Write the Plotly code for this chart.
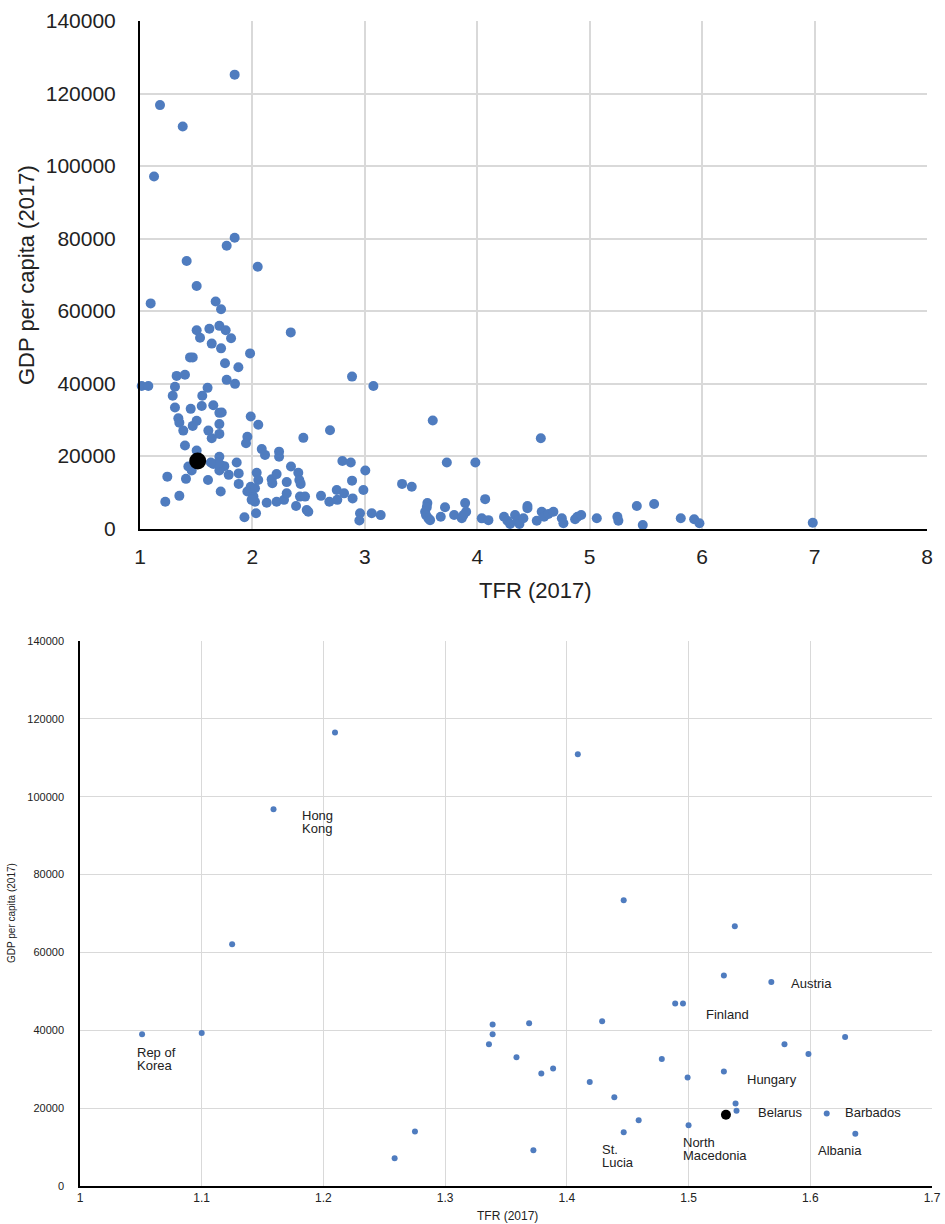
import plotly.graph_objects as go

# ---------------- data: top panel (all countries) ----------------
top_tfr = [1.842, 1.178, 1.380, 1.125, 1.842, 1.771, 1.415, 2.047, 1.504, 1.095,
           1.673, 1.721, 1.504, 1.534, 1.617, 1.706, 1.762, 1.810, 1.638, 1.721,
           1.979, 1.445, 1.469, 1.756, 1.875, 1.326, 1.400, 1.771, 1.845, 1.015,
           1.074, 1.311, 1.601, 1.291, 1.554, 2.341, 2.886, 3.076, 3.604, 2.690,
           2.453, 3.729, 3.983, 3.004, 3.331, 3.417, 4.070, 4.565, 1.311, 1.451,
           1.549, 1.652, 1.706, 1.727, 1.341, 1.350, 1.504, 1.469, 1.985, 2.052,
           1.385, 1.608, 1.706, 1.706, 1.638, 1.955, 1.943, 1.400, 2.083, 2.112,
           2.237, 2.237, 1.504, 1.706, 1.430, 1.460, 1.652, 1.718, 1.750, 1.706,
           1.860, 1.789, 1.878, 1.243, 1.409, 1.605, 1.878, 2.038, 2.052, 1.985,
           1.955, 2.009, 2.023, 1.718, 1.350, 1.225, 1.929, 2.032, 2.171, 2.215,
           2.305, 2.343, 2.408, 2.417, 2.429, 2.127, 2.215, 2.281, 2.305, 2.388,
           2.423, 2.468, 2.483, 2.610, 2.684, 2.755, 2.750, 2.800, 2.875, 2.815,
           2.891, 2.886, 2.987, 2.957, 2.951, 3.061, 3.141, 1.697, 1.630, 2.023,
           1.993, 2.177, 2.497, 3.556, 3.551, 3.536, 3.544, 3.565, 3.580, 3.713,
           3.675, 3.794, 3.862, 3.892, 3.901, 3.877, 4.040, 4.099, 4.238, 4.268,
           4.292, 4.336, 4.357, 4.375, 4.410, 4.446, 4.446, 4.529, 4.573, 4.594,
           4.633, 4.677, 4.752, 4.766, 4.870, 4.891, 4.924, 5.063, 5.246, 5.255,
           5.419, 5.573, 5.472, 5.810, 5.929, 5.976, 6.984]
top_gdp = [125200, 116800, 110900, 97100, 80200, 78000, 73800, 72200, 66900, 62100,
           62600, 60500, 54700, 52600, 55100, 55900, 54700, 52500, 51000, 49700,
           48300, 47200, 47200, 45600, 44500, 42100, 42400, 41000, 39900, 39300,
           39300, 39100, 38800, 36600, 36600, 54100, 41900, 39300, 29800, 27100,
           25000, 18200, 18200, 16000, 12300, 11500, 8100, 24900, 33400, 33000,
           33800, 34000, 31900, 32000, 30400, 29200, 29700, 28300, 30900, 28600,
           27000, 27000, 28800, 26100, 24900, 25300, 23500, 22900, 21900, 20300,
           21200, 19800, 21500, 19800, 17100, 16000, 17800, 17500, 17200, 16000,
           18200, 14800, 15200, 14300, 13700, 13400, 12300, 15400, 13400, 11500,
           10200, 8800, 7400, 10200, 9000, 7400, 3100, 4200, 13600, 15000,
           12800, 17100, 15400, 13400, 12300, 7100, 7400, 7900, 9700, 6200,
           8800, 8800, 5100, 9000, 7400, 7900, 10600, 18600, 18200, 9700,
           8300, 13200, 10600, 4200, 2200, 4200, 3700, 18000, 18200, 11100,
           7900, 12500, 4600, 7000, 5900, 4600, 3700, 2800, 2300, 5850,
           3260, 3720, 2810, 7000, 4600, 3700, 2800, 2300, 3260, 2150,
           1240, 3720, 2150, 1240, 2810, 6210, 5570, 2150, 4640, 3260,
           4000, 4640, 2810, 1430, 2540, 3260, 3720, 2810, 3260, 2150,
           6210, 6760, 970, 2810, 2540, 1430, 1600]
top_hl_tfr = [1.513]
top_hl_gdp = [18600]

# ---------------- data: bottom panel (TFR 1.0-1.7) ----------------
bot_tfr = [1.051, 1.100, 1.125, 1.159, 1.2095, 1.2585, 1.2752, 1.336, 1.339, 1.339,
           1.3586, 1.369, 1.3725, 1.379, 1.3887, 1.409, 1.4188, 1.429, 1.439, 1.4467,
           1.4467, 1.459, 1.478, 1.489, 1.4954, 1.4992, 1.500, 1.529, 1.529, 1.5386,
           1.538, 1.5394, 1.568, 1.5788, 1.5985, 1.6135, 1.6286, 1.637]
bot_gdp = [39000, 39300, 62100, 96800, 116500, 7100, 14000, 36400, 39000, 41500,
           33100, 41800, 9200, 28900, 30200, 110900, 26700, 42300, 22800, 73400,
           13800, 16900, 32600, 46900, 46900, 27900, 15600, 54100, 29400, 21200,
           66700, 19300, 52400, 36400, 33900, 18600, 38300, 13400]
bot_names = ["Rep of<br>Korea", "", "", "Hong<br>Kong", "", "", "", "", "", "",
             "", "", "", "", "", "", "", "", "", "",
             "St.<br>Lucia", "", "", "", "Finland", "", "North<br>Macedonia", "", "Hungary", "",
             "", "Belarus", "Austria", "", "", "Barbados", "", "Albania"]
bot_hl_tfr = [1.5307]
bot_hl_gdp = [18300]

# label offsets in pixels (dx right, dy down) for the first text line
label_offsets = {
    "Rep of<br>Korea": (-7, 18), "Hong<br>Kong": (26, 6), "St.<br>Lucia": (-24, 17),
    "Finland": (21, 11), "North<br>Macedonia": (-8, 17), "Hungary": (21, 8),
    "Belarus": (19, 2), "Austria": (18, 1), "Barbados": (16, -1), "Albania": (-39, 17),
}

BLUE = "#4f7cbf"
FONT = "Liberation Sans, Arial, sans-serif"
TXT = "#222222"
GRID = "#d9d9d9"
W, H = 945, 1224

fig = go.Figure()
fig.add_trace(go.Scatter(x=top_tfr, y=top_gdp, mode="markers", xaxis="x", yaxis="y",
                         marker=dict(size=10, color=BLUE), showlegend=False, cliponaxis=False))
fig.add_trace(go.Scatter(x=top_hl_tfr, y=top_hl_gdp, mode="markers", xaxis="x", yaxis="y",
                         marker=dict(size=17, color="#000000"), showlegend=False))
fig.add_trace(go.Scatter(x=bot_tfr, y=bot_gdp, mode="markers", xaxis="x2", yaxis="y2",
                         marker=dict(size=6, color=BLUE), showlegend=False))
fig.add_trace(go.Scatter(x=bot_hl_tfr, y=bot_hl_gdp, mode="markers", xaxis="x2", yaxis="y2",
                         marker=dict(size=10, color="#000000"), showlegend=False))

annotations = []
for name, xv, yv in zip(bot_names, bot_tfr, bot_gdp):
    if not name:
        continue
    dx, dy = label_offsets[name]
    for i, line in enumerate(name.split("<br>")):
        annotations.append(dict(x=xv, y=yv, xref="x2", yref="y2", text=line, showarrow=False,
                                xanchor="left", yanchor="middle", xshift=dx,
                                yshift=-(dy + i * 13.5),
                                font=dict(family=FONT, size=13, color=TXT)))

# axis titles
annotations += [
    dict(x=535 / W, y=1 - 590 / H, xref="paper", yref="paper", text="TFR (2017)", showarrow=False,
         xanchor="center", yanchor="middle", font=dict(family=FONT, size=22, color=TXT)),
    dict(x=26 / W, y=1 - 275 / H, xref="paper", yref="paper", text="GDP per capita (2017)",
         showarrow=False, textangle=-90, xanchor="center", yanchor="middle",
         font=dict(family=FONT, size=22, color=TXT)),
    dict(x=507 / W, y=1 - 1216 / H, xref="paper", yref="paper", text="TFR (2017)", showarrow=False,
         xanchor="center", yanchor="middle", font=dict(family=FONT, size=12, color=TXT)),
    dict(x=11 / W, y=1 - 913 / H, xref="paper", yref="paper", text="GDP per capita (2017)",
         showarrow=False, textangle=-90, xanchor="center", yanchor="middle",
         font=dict(family=FONT, size=10, color=TXT)),
]

fig.update_layout(
    width=W, height=H, margin=dict(l=0, r=0, t=0, b=0),
    paper_bgcolor="white", plot_bgcolor="white",
    font=dict(family=FONT, color=TXT),
    xaxis=dict(domain=[140 / W, 927 / W], anchor="y", range=[1, 8], tick0=1, dtick=1,
               showgrid=True, gridcolor=GRID, gridwidth=1.5, zeroline=False,
               showline=True, linecolor="#000000", linewidth=2, ticks="",
               tickfont=dict(size=21, color=TXT), ticklabelstandoff=8, automargin=False),
    yaxis=dict(domain=[1 - 528.5 / H, 1 - 21 / H], anchor="x", range=[0, 140000], tick0=0,
               dtick=20000, tickformat="d", showgrid=True, gridcolor=GRID, gridwidth=1.5,
               zeroline=False, showline=True, linecolor="#000000", linewidth=2, ticks="",
               tickfont=dict(size=21, color=TXT), ticklabelstandoff=18, automargin=False),
    xaxis2=dict(domain=[80 / W, 932 / W], anchor="y2", range=[1, 1.7], tick0=1, dtick=0.1,
                showgrid=True, gridcolor=GRID, gridwidth=1, zeroline=False,
                showline=True, linecolor="#000000", linewidth=1.5, ticks="",
                tickfont=dict(size=12, color=TXT), ticklabelstandoff=0, automargin=False),
    yaxis2=dict(domain=[1 - 1186 / H, 1 - 641 / H], anchor="x2", range=[0, 140000], tick0=0,
                dtick=20000, tickformat="d", showgrid=True, gridcolor=GRID, gridwidth=1,
                zeroline=False, showline=True, linecolor="#000000", linewidth=1.5, ticks="",
                tickfont=dict(size=11, color=TXT), ticklabelstandoff=12, automargin=False),
    annotations=annotations,
)

fig.write_html("out.html")
